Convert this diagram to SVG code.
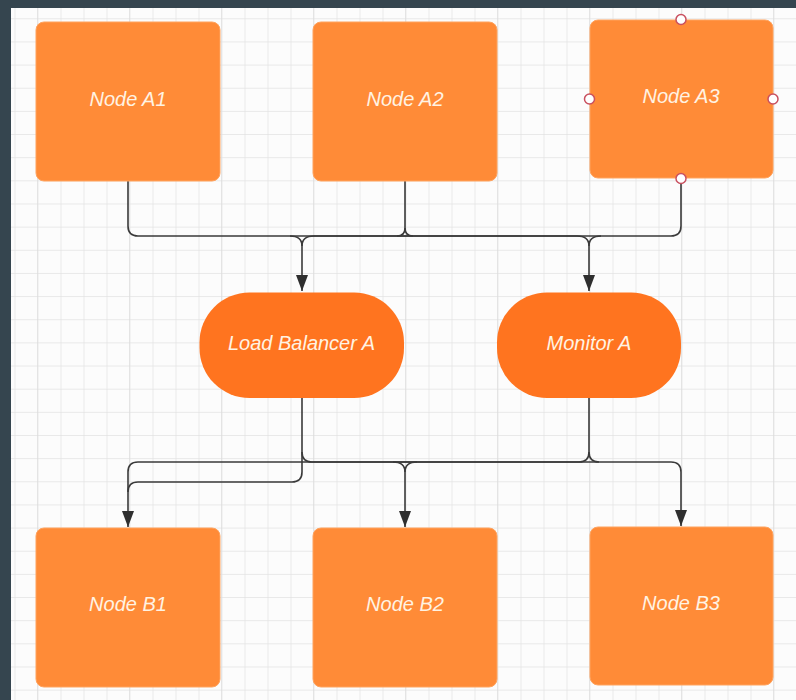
<svg xmlns="http://www.w3.org/2000/svg" width="796" height="700" viewBox="0 0 796 700">
  <defs>
    <pattern id="grid" patternUnits="userSpaceOnUse" x="14.5" y="18.3" width="23" height="23.15">
      <path d="M0,0 H23 M0,0 V23.15" fill="none" stroke="#e2e2e2" stroke-width="1.3"/>
    </pattern>
    <pattern id="gridMajor" patternUnits="userSpaceOnUse" x="37" y="18.3" width="92" height="92.6">
      <path d="M0,0 V92.6" fill="none" stroke="#dcdcdc" stroke-width="1.3"/>
    </pattern>
    <marker id="arrow" markerUnits="userSpaceOnUse" markerWidth="16" markerHeight="12" refX="16" refY="6" orient="auto">
      <path d="M0,0 L16,6 L0,12 z" fill="#2f2f2f"/>
    </marker>
  </defs>
  <style>
    .node { fill: #ff8b37; stroke: #ffa35e; stroke-width: 1; }
    .pill { fill: #ff741f; }
    .label { font-family: "Liberation Sans", Arial, sans-serif; font-style: italic; font-size: 20px; fill: #fff3e3; text-anchor: middle; }
    .conn { fill: none; stroke: #3a3a3a; stroke-width: 1.6; }
    .handle { fill: #ffffff; stroke: #c9505f; stroke-width: 1.5; }
  </style>

  <rect x="0" y="0" width="796" height="700" fill="#fcfcfc"/>
  <rect x="0" y="0" width="796" height="700" fill="url(#grid)"/>
  <rect x="0" y="0" width="796" height="700" fill="url(#gridMajor)"/>
  <rect x="0" y="0" width="796" height="8" fill="#35454f"/>
  <rect x="0" y="0" width="11" height="700" fill="#35454f"/>

  <g id="connectors">
    <!-- top bus -->
    <path class="conn" d="M128,181 V226 Q128,236 138,236 H577 Q589,236 589,246"/>
    <path class="conn" d="M290,236 Q302,236 302,246"/>
    <path class="conn" d="M405,181 V228 Q405,236 397,236"/>
    <path class="conn" d="M405,228 Q405,236 413,236"/>
    <path class="conn" d="M681,179 V226 Q681,236 671,236 H314 Q302,236 302,246"/>
    <path class="conn" d="M601,236 Q589,236 589,246"/>
    <path class="conn" d="M302,246 V291" marker-end="url(#arrow)"/>
    <path class="conn" d="M589,246 V291" marker-end="url(#arrow)"/>
    <!-- bottom bus -->
    <path class="conn" d="M302,398 V472 Q302,482 292,482 H138 Q128,482 128,492 V527" marker-end="url(#arrow)"/>
    <path class="conn" d="M302,452 Q302,462 312,462 H671 Q681,462 681,472 V526" marker-end="url(#arrow)"/>
    <path class="conn" d="M589,398 V452 Q589,462 579,462 H138 Q128,462 128,472 V492"/>
    <path class="conn" d="M589,452 Q589,462 599,462"/>
    <path class="conn" d="M393,462 Q405,462 405,472"/>
    <path class="conn" d="M417,462 Q405,462 405,472"/>
    <path class="conn" d="M405,472 V527" marker-end="url(#arrow)"/>
  </g>

  <g id="node-a1">
    <rect class="node" x="36" y="22" width="184" height="159" rx="8"/>
    <text class="label" x="128" y="105.5">Node A1</text>
  </g>
  <g id="node-a2">
    <rect class="node" x="313" y="22" width="184" height="159" rx="8"/>
    <text class="label" x="405" y="105.5">Node A2</text>
  </g>
  <g id="node-a3">
    <rect class="node" x="590" y="20" width="183" height="158" rx="8"/>
    <text class="label" x="681" y="103">Node A3</text>
    <circle class="handle" cx="681" cy="19.5" r="5"/>
    <circle class="handle" cx="589.5" cy="99" r="5"/>
    <circle class="handle" cx="773" cy="99" r="5"/>
    <circle class="handle" cx="681" cy="178.5" r="5"/>
  </g>
  <g id="load-balancer-a">
    <rect class="pill" x="199.5" y="292.5" width="204.5" height="105.5" rx="50"/>
    <text class="label" x="301.5" y="350">Load Balancer A</text>
  </g>
  <g id="monitor-a">
    <rect class="pill" x="497" y="292.5" width="184" height="105.5" rx="50"/>
    <text class="label" x="589" y="350">Monitor A</text>
  </g>
  <g id="node-b1">
    <rect class="node" x="36" y="528" width="184" height="159" rx="8"/>
    <text class="label" x="128" y="611">Node B1</text>
  </g>
  <g id="node-b2">
    <rect class="node" x="313" y="528" width="184" height="159" rx="8"/>
    <text class="label" x="405" y="611">Node B2</text>
  </g>
  <g id="node-b3">
    <rect class="node" x="590" y="527" width="183" height="158" rx="8"/>
    <text class="label" x="681" y="610">Node B3</text>
  </g>
</svg>
